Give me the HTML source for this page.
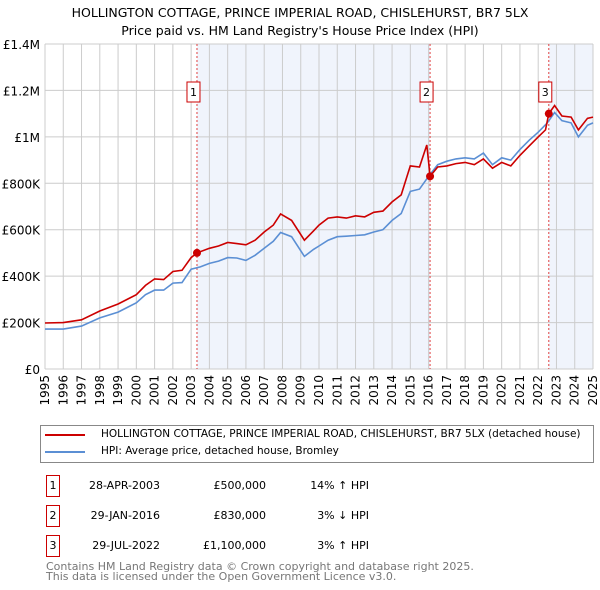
<!DOCTYPE html>
<html><head><meta charset="utf-8"><style>
body{margin:0;background:#fff;font-family:"Liberation Sans","DejaVu Sans",sans-serif;}
#wrap{position:relative;width:600px;height:590px;overflow:hidden}
.t{position:absolute;font-size:12px;color:#000;white-space:nowrap}
</style></head><body><div id="wrap">
<svg id="chart" width="600" height="420" style="position:absolute;left:0;top:0">
<text x="300" y="17" text-anchor="middle" font-size="12.5" font-family="DejaVu Sans, sans-serif">HOLLINGTON COTTAGE, PRINCE IMPERIAL ROAD, CHISLEHURST, BR7 5LX</text>
<text x="300" y="35" text-anchor="middle" font-size="12.5" font-family="DejaVu Sans, sans-serif">Price paid vs. HM Land Registry's House Price Index (HPI)</text>
<g id="g"></g>
</svg>
<div style="position:absolute;left:40px;top:425px;width:554px;height:38px;border:1px solid #888;box-sizing:border-box">
<div style="position:absolute;left:4px;top:8px;width:40px;height:2px;background:#cc0000"></div>
<div class="t" style="left:60px;top:2px;font-size:10.5px;font-family:'DejaVu Sans',sans-serif">HOLLINGTON COTTAGE, PRINCE IMPERIAL ROAD, CHISLEHURST, BR7 5LX (detached house)</div>
<div style="position:absolute;left:4px;top:25px;width:40px;height:2px;background:#5b8fd4"></div>
<div class="t" style="left:60px;top:19px;font-size:10.5px;font-family:'DejaVu Sans',sans-serif">HPI: Average price, detached house, Bromley</div>
</div>
<div id="tbl"></div>
<div class="t" style="left:46px;top:562px;color:#777;font-size:11px;line-height:10px;font-family:'DejaVu Sans',sans-serif">Contains HM Land Registry data © Crown copyright and database right 2025.<br>This data is licensed under the Open Government Licence v3.0.</div>
</div>
<script>
const hpiYears=[1995,1996,1997,1998,1999,2000,2000.5,2001,2001.5,2002,2002.5,2003,2003.5,2004,2004.5,2005,2005.5,2006,2006.5,2007,2007.5,2007.9,2008.5,2009.2,2009.7,2010,2010.5,2011,2011.5,2012,2012.5,2013,2013.5,2014,2014.5,2015,2015.5,2016,2016.5,2017,2017.5,2018,2018.5,2019,2019.5,2020,2020.5,2021,2021.5,2022,2022.5,2022.9,2023.3,2023.8,2024.2,2024.7,2025];
const hpiValues=[172,172,185,220,245,285,320,340,340,370,372,430,440,455,465,480,478,468,490,520,550,588,570,485,515,530,555,570,572,575,578,590,600,640,670,765,775,830,880,895,905,910,905,930,880,910,900,945,985,1020,1060,1105,1070,1060,1000,1050,1060];
const propYears=[1995,1996,1997,1998,1999,2000,2000.5,2001,2001.5,2002,2002.5,2003,2003.32,2004,2004.5,2005,2005.5,2006,2006.5,2007,2007.5,2007.9,2008.5,2009.2,2009.7,2010,2010.5,2011,2011.5,2012,2012.5,2013,2013.5,2014,2014.5,2015,2015.5,2015.9,2016.08,2016.5,2017,2017.5,2018,2018.5,2019,2019.5,2020,2020.5,2021,2021.5,2022,2022.4,2022.58,2022.9,2023.3,2023.8,2024.2,2024.7,2025];
const propValues=[198,200,212,250,280,320,360,388,385,420,425,480,500,520,530,545,540,535,555,590,620,668,640,555,595,620,650,655,650,660,655,675,680,720,750,875,870,965,830,870,875,885,890,880,905,865,890,875,920,960,1000,1030,1100,1135,1090,1085,1030,1080,1085];
const saleYears=[2003.32,2016.08,2022.58];
const saleValues=[500,830,1100];
const saleLabels=["1","2","3"];
const saleDates=["28-APR-2003","29-JAN-2016","29-JUL-2022"];
const salePrices=["£500,000","£830,000","£1,100,000"];
const saleDiffs=["14% ↑ HPI","3% ↓ HPI","3% ↑ HPI"];
const yTicks=[0,200,400,600,800,1000,1200,1400];
const yTickLabels=["£0","£200K","£400K","£600K","£800K","£1M","£1.2M","£1.4M"];
const xTicks=[1995,1996,1997,1998,1999,2000,2001,2002,2003,2004,2005,2006,2007,2008,2009,2010,2011,2012,2013,2014,2015,2016,2017,2018,2019,2020,2021,2022,2023,2024,2025];

const X0=45,X1=593,Y0=369,Y1=44;
const xs=v=>X0+(v-1995)/30*(X1-X0);
const ys=v=>Y0-v/1400*(Y0-Y1);
const NS="http://www.w3.org/2000/svg";
const g=document.getElementById('g');
function mk(t,a,p){const e=document.createElementNS(NS,t);for(const k in a)e.setAttribute(k,a[k]);(p||g).appendChild(e);return e;}
let e;
e=mk('rect',{x:xs(saleYears[0]),y:Y1,width:xs(saleYears[1])-xs(saleYears[0]),height:Y0-Y1,fill:'#f0f4fc'});


e=mk('rect',{x:xs(saleYears[2]),y:Y1,width:X1-xs(saleYears[2]),height:Y0-Y1,fill:'#f0f4fc'});


xTicks.forEach(v=>{
 e=mk('line',{x1:xs(v),x2:xs(v),y1:Y1,y2:Y0,stroke:'#ccc','stroke-width':1});
 
 
 e=mk('text',{x:0,y:0,transform:`translate(${xs(v)+4},${Y0+6}) rotate(-90)`,'text-anchor':'end','font-size':12,'font-family':'DejaVu Sans, sans-serif'});
 e.textContent=v;
 
 
});
yTicks.forEach((v,i)=>{
 e=mk('line',{x1:X0,x2:X1,y1:ys(v),y2:ys(v),stroke:'#ccc','stroke-width':1});
 
 
 e=mk('text',{x:X0-5,y:ys(v)+5,'text-anchor':'end','font-size':12,'font-family':'DejaVu Sans, sans-serif'});
 e.textContent=yTickLabels[i];
 
 
});
saleYears.forEach(v=>{
 e=mk('line',{x1:xs(v),x2:xs(v),y1:Y1,y2:Y0,stroke:'#e04040','stroke-width':1,'stroke-dasharray':'2,2'});
 
 
});
function path(xa,va){return xa.map((x,i)=>(i?'L':'M')+xs(x).toFixed(1)+','+ys(va[i]).toFixed(1)).join('');}
e=mk('path',{d:path(hpiYears,hpiValues),fill:'none',stroke:'#5b8fd4','stroke-width':1.6});


e=mk('path',{d:path(propYears,propValues),fill:'none',stroke:'#cc0000','stroke-width':1.6});


saleYears.forEach((v,i)=>{
 e=mk('circle',{cx:xs(v),cy:ys(saleValues[i]),r:4,fill:'#cc0000'});
 
 
 const bx=xs(v)-10;
 e=mk('rect',{x:bx,y:82,width:13,height:20,fill:'#fff',stroke:'#cc0000'});
 
 
 e=mk('text',{x:bx+6.5,y:96,'text-anchor':'middle','font-size':11,'font-family':'DejaVu Sans, sans-serif'});
 e.textContent=saleLabels[i];
 
 
});
const tb=document.getElementById('tbl');
const rowsY=[475,505,535];
saleLabels.forEach((l,i)=>{
 const r=document.createElement('div');
 
 
 r.style.cssText=`position:absolute;left:0;top:${rowsY[i]}px;width:600px;height:22px;font-family:'DejaVu Sans',sans-serif;font-size:11px`;
 r.innerHTML=`<div style="position:absolute;left:46px;top:0;width:12px;height:20px;border:1px solid #cc0000;text-align:center;line-height:20px">${l}</div>
<div class="t" style="left:70px;top:4px;width:90px;text-align:right;font-size:11px">${saleDates[i]}</div>
<div class="t" style="left:160px;top:4px;width:106px;text-align:right;font-size:11px">${salePrices[i]}</div>
<div class="t" style="left:290px;top:4px;width:79px;text-align:right;font-size:11px">${saleDiffs[i]}</div>`;
 tb.appendChild(r);
});
</script></body></html>
